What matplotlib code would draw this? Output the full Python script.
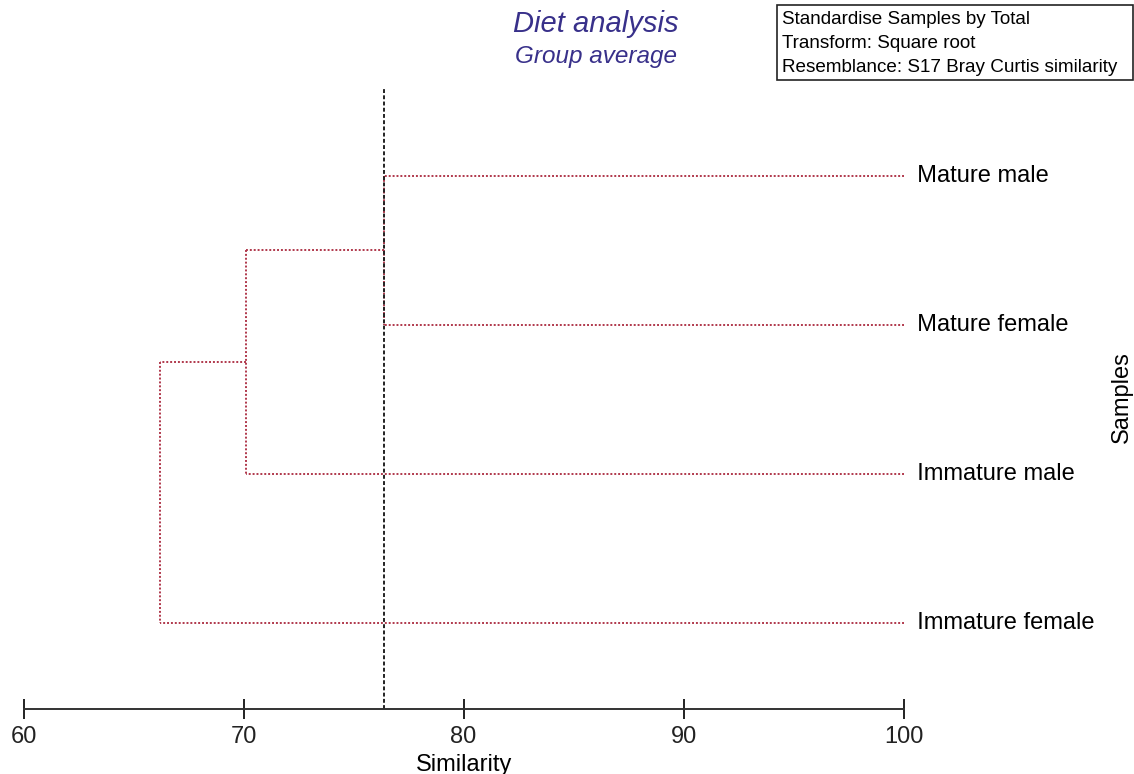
import matplotlib
matplotlib.use("Agg")
import matplotlib.pyplot as plt
from matplotlib.patches import Rectangle

plt.rcParams["font.family"] = ["Liberation Sans", "DejaVu Sans"]

# Samples in dendrogram order (top to bottom)
samples = ["Mature male", "Mature female", "Immature male", "Immature female"]
# Group-average merges: (left member, right member, similarity); members >= len(samples) are clusters
merges = [(0, 1, 76.4), (4, 2, 70.1), (5, 3, 66.2)]
slice_level = 76.4
x_ticks = [60, 70, 80, 90, 100]
info_lines = ["Standardise Samples by Total",
              "Transform: Square root",
              "Resemblance: S17 Bray Curtis similarity"]

W, H = 1134, 774
fig = plt.figure(figsize=(W / 100, H / 100), dpi=100)
ax_left, ax_right = 23.6, 903.6
ax_top, ax_bottom = 88, 709
ax = fig.add_axes([ax_left / W, 1 - ax_bottom / H,
                   (ax_right - ax_left) / W, (ax_bottom - ax_top) / H])

n = len(samples)
ypos = {i: n - i for i in range(n)}      # leaf rows
xpos = {i: 100.0 for i in range(n)}      # leaves sit at 100 % similarity

line_col = "#b0384c"
for k, (a, b, s) in enumerate(merges):
    for m in (a, b):
        ax.plot([xpos[m], s], [ypos[m], ypos[m]], color=line_col, lw=1.4,
                ls=(0, (1, 1)), solid_capstyle="butt")
    ax.plot([s, s], [ypos[a], ypos[b]], color=line_col, lw=1.4, ls=(0, (1, 1)))
    c = n + k
    xpos[c] = s
    ypos[c] = (ypos[a] + ypos[b]) / 2

ax.axvline(slice_level, color="#222222", lw=1.4, ls=(0, (2, 1.2)))

for i, name in enumerate(samples):
    ax.text(100, ypos[i], "  " + name, fontsize=17, va="center", ha="left",
            clip_on=False)

ax.set_xlim(60, 100)
ax.set_ylim(0.42, 4.59)
for sp in ("top", "left", "right"):
    ax.spines[sp].set_visible(False)
ax.spines["bottom"].set_linewidth(1.4)
ax.spines["bottom"].set_color("#333333")
ax.set_yticks([])
ax.set_xticks(x_ticks)
ax.tick_params(axis="x", direction="inout", length=15, width=1.4,
               labelsize=17, pad=5, colors="#222222")
ax.set_xlabel("Similarity", fontsize=17, labelpad=4)

fig.text(1122 / W, 1 - 397 / H, "Samples", rotation=90, fontsize=17,
         ha="center", va="center")

title_col = "#38308a"
fig.text(596 / W, 1 - 24 / H, "Diet analysis", fontsize=21, style="italic",
         color=title_col, ha="center", va="center")
fig.text(596 / W, 1 - 56 / H, "Group average", fontsize=17.5, style="italic",
         color=title_col, ha="center", va="center")

# Info box in the top-right corner
bx0, by0, bx1, by1 = 777, 5, 1133, 80
fig.patches.append(Rectangle((bx0 / W, 1 - by1 / H), (bx1 - bx0) / W,
                             (by1 - by0) / H, transform=fig.transFigure,
                             fill=False, edgecolor="#222222", lw=1.2))
for j, t in enumerate(info_lines):
    fig.text(782 / W, 1 - (19 + 24 * j) / H, t, fontsize=13.6,
             ha="left", va="center")

fig.savefig("out.png", dpi=100)
